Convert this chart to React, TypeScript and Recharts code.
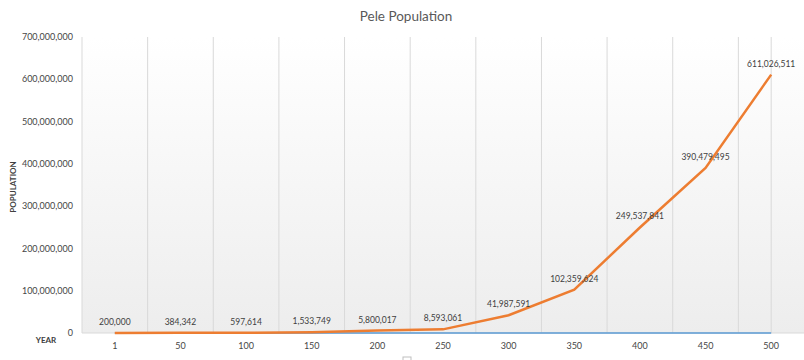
import { LabelList, Line, LineChart, ReferenceArea, ReferenceLine, XAxis, YAxis } from "recharts";

const YEARS = ["1", "50", "100", "150", "200", "250", "300", "350", "400", "450", "500"];
const POPULATION = [
  200000, 384342, 597614, 1533749, 5800017, 8593061, 41987591, 102359624, 249537841, 390479495,
  611026511,
];
const YEAR_SERIES = [1, 50, 100, 150, 200, 250, 300, 350, 400, 450, 500];
const Y_TICKS = [0, 100000000, 200000000, 300000000, 400000000, 500000000, 600000000, 700000000];

const FONT = "Lato, 'Open Sans', sans-serif";
const TEXT = "#595959";
const TICK = "#464646";
const GRID = "#d9d9d9";

const data = YEARS.map((year, i) => ({ i, year, pop: POPULATION[i], yr: YEAR_SERIES[i] }));
const fmt = (v: number) => Number(v).toLocaleString("en-US");

export default function App() {
  return (
    <div style={{ position: "absolute", left: 0, top: 0, width: 804, height: 360, background: "#fff" }}>
      <LineChart width={804} height={360} data={data} margin={{ top: 37, right: 0, bottom: 0, left: 0 }}>
        <defs>
          <linearGradient id="plotBg" x1="0" y1="0" x2="0" y2="1">
            <stop offset="0%" stopColor="#ffffff" />
            <stop offset="100%" stopColor="#ededed" />
          </linearGradient>
        </defs>
        <XAxis
          dataKey="i"
          type="number"
          domain={[-0.5, 10.5]}
          ticks={YEARS.map((_, i) => i)}
          tickFormatter={(v) => YEARS[v]}
          axisLine={false}
          tickLine={false}
          tickSize={0}
          tickMargin={10}
          height={27}
          allowDataOverflow
          tick={{ fill: TICK, fontSize: 9, fontFamily: FONT }}
        />
        <YAxis
          domain={[0, 700000000]}
          ticks={Y_TICKS}
          tickFormatter={fmt}
          axisLine={false}
          tickLine={false}
          tickSize={0}
          tickMargin={9}
          width={82}
          tick={{ fill: TICK, fontSize: 9, fontFamily: FONT }}
        />
        <ReferenceArea x1={-0.5} x2={10.5} y1={0} y2={700000000} fill="url(#plotBg)" fillOpacity={1} stroke="none" />
        {YEARS.map((_, k) => (
          <ReferenceLine key={k} x={k - 0.5} stroke={GRID} strokeWidth={1} />
        ))}
        <ReferenceLine x={10} stroke={GRID} strokeWidth={1} />
        <ReferenceLine y={0} stroke={GRID} strokeWidth={1} />
        <Line
          dataKey="yr"
          stroke="#5b9bd5"
          strokeWidth={1.5}
          dot={false}
          isAnimationActive={false}
        />
        <Line
          dataKey="pop"
          stroke="#ed7d31"
          strokeWidth={2.5}
          dot={false}
          isAnimationActive={false}
        >
          <LabelList
            dataKey="pop"
            position="top"
            offset={8}
            formatter={(v: number) => fmt(v)}
            style={{ fill: "#404040", fontSize: 8.5, fontFamily: FONT }}
          />
        </Line>
      </LineChart>
      <svg
        width={804}
        height={360}
        style={{ position: "absolute", left: 0, top: 0, pointerEvents: "none" }}
      >
        <text x={406} y={21} textAnchor="middle" fill={TEXT} fontSize={13.5} fontFamily={FONT}>
          Pele Population
        </text>
        <text
          transform="translate(16,187) rotate(-90)"
          textAnchor="middle"
          fill="#404040"
          fontSize={8}
          fontWeight="bold"
          fontFamily={FONT}
        >
          POPULATION
        </text>
        <text x={46} y={343} textAnchor="middle" fill="#404040" fontSize={8} fontWeight="bold" fontFamily={FONT}>
          YEAR
        </text>
        <rect x={403} y={357} width={8} height={6} fill="none" stroke="#bfbfbf" strokeWidth={1} />
      </svg>
    </div>
  );
}
